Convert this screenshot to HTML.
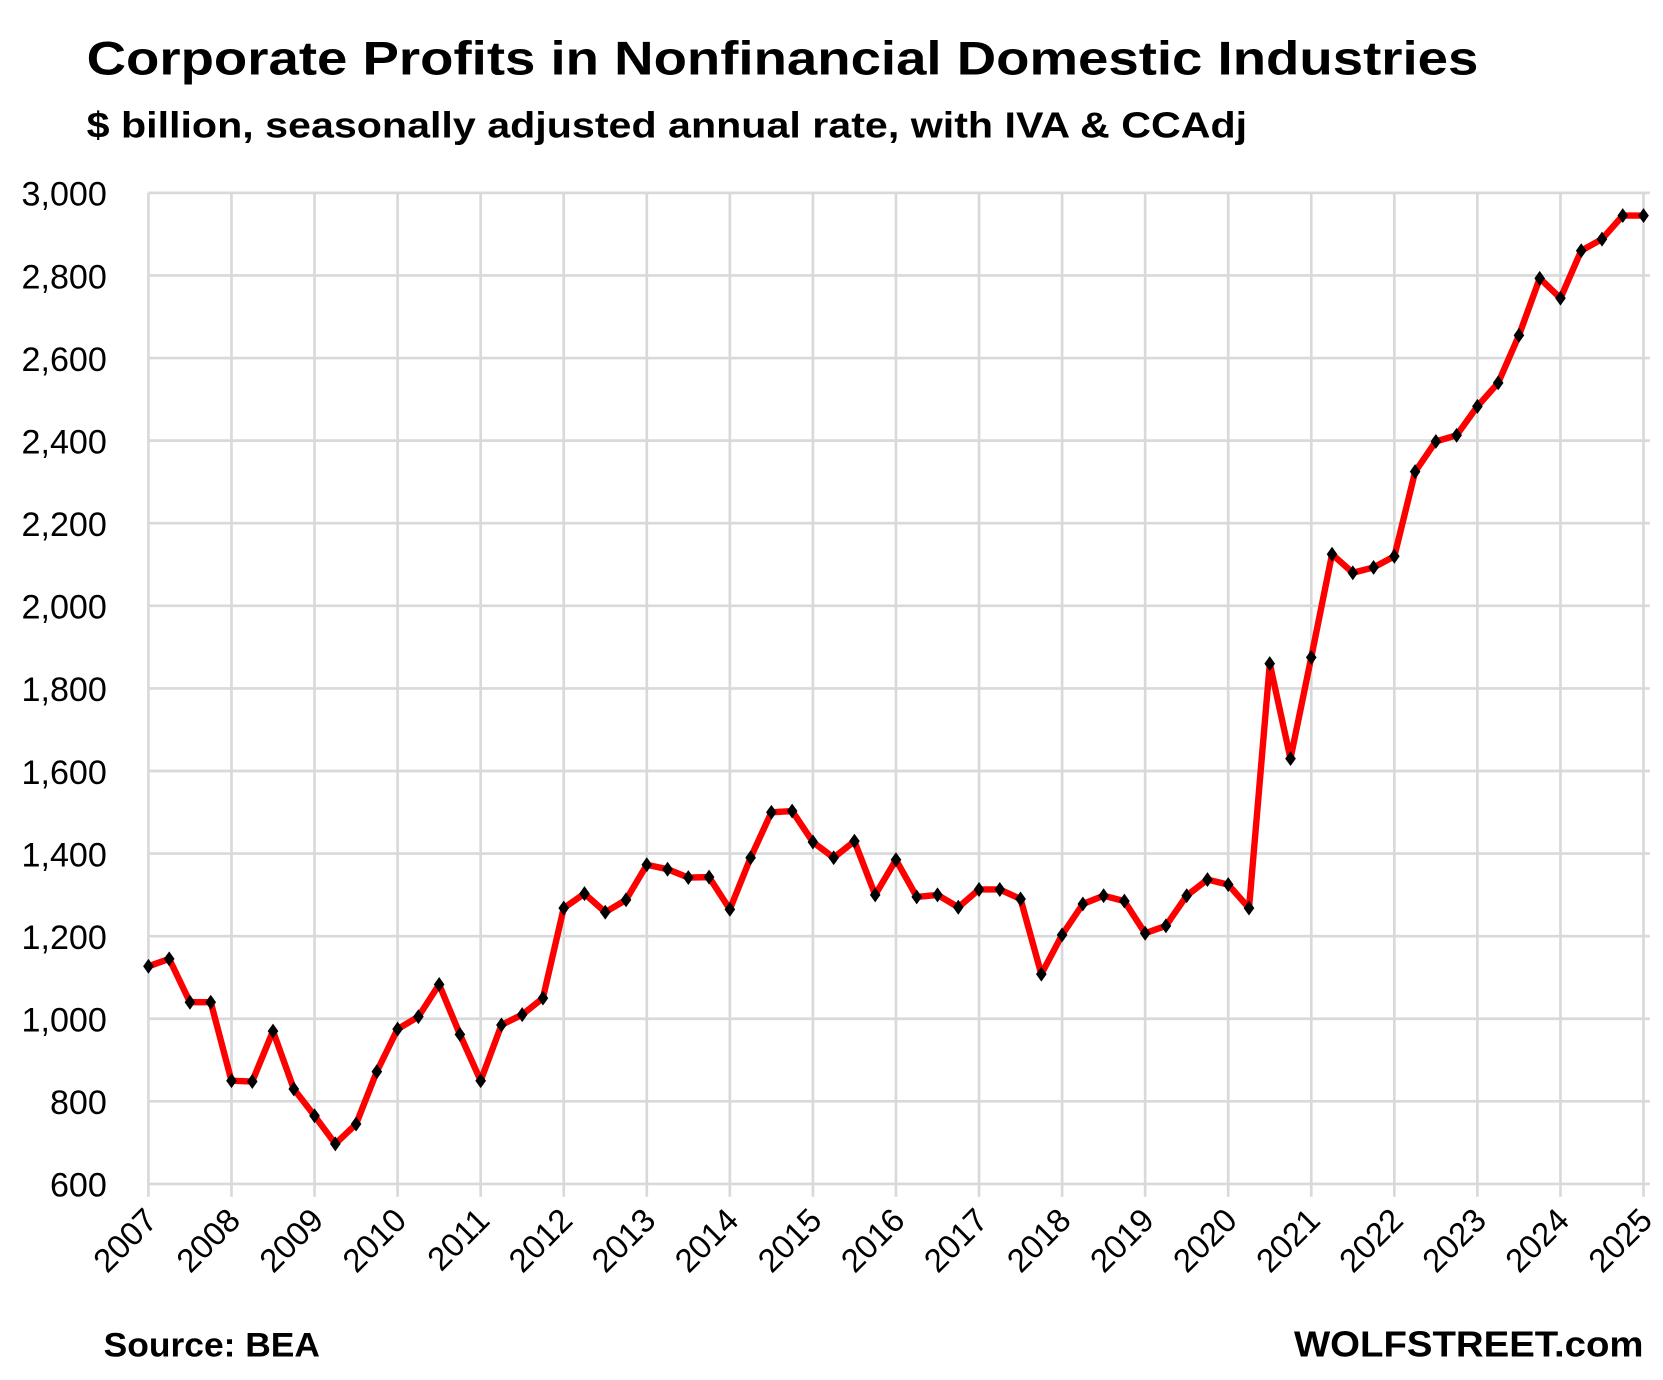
<!DOCTYPE html>
<html><head><meta charset="utf-8"><style>
html,body{margin:0;padding:0;background:#fff;}
svg{display:block;font-family:"Liberation Sans Narrow","Liberation Sans",sans-serif;}
</style></head><body>
<svg id="chart" width="1663" height="1380" viewBox="0 0 1560 1295" xmlns="http://www.w3.org/2000/svg">
<rect width="1560" height="1295" fill="#fff"/>
<text x="81" y="70" font-size="44" font-weight="bold" textLength="1306" lengthAdjust="spacingAndGlyphs">Corporate Profits in Nonfinancial Domestic Industries</text>
<text x="81" y="129" font-size="34" font-weight="bold" textLength="1089" lengthAdjust="spacingAndGlyphs">$ billion, seasonally adjusted annual rate, with IVA &amp; CCAdj</text>
<g id="grid"></g><g id="series"></g><g id="labels"></g>
<text x="97" y="1273" font-size="32" font-weight="bold" textLength="203" lengthAdjust="spacingAndGlyphs">Source: BEA</text>
<text x="1542" y="1273" font-size="34" font-weight="bold" text-anchor="end" textLength="328" lengthAdjust="spacingAndGlyphs">WOLFSTREET.com</text>
</svg>
<script>
const years = ["2007","2008","2009","2010","2011","2012","2013","2014","2015","2016","2017","2018","2019","2020","2021","2022","2023","2024","2025"];
const yTicks = [600,800,1000,1200,1400,1600,1800,2000,2200,2400,2600,2800,3000];
const yTickLabels = ["600","800","1,000","1,200","1,400","1,600","1,800","2,000","2,200","2,400","2,600","2,800","3,000"];
const profits = [1127,1145,1040,1040, 850,848,970,830, 765,697,745,872, 975,1005,1083,962,
 850,985,1010,1050, 1268,1303,1258,1288, 1373,1362,1342,1343, 1265,1390,1500,1503,
 1428,1390,1430,1300, 1385,1295,1300,1270, 1313,1313,1290,1108, 1203,1278,1298,1285,
 1207,1225,1298,1337, 1325,1268,1860,1630, 1875,2125,2080,2093, 2120,2325,2398,2413,
 2483,2540,2655,2793, 2745,2860,2888,2945, 2945];
const NS="http://www.w3.org/2000/svg";
const X0=139,X1=1542,Y0=1111,Y1=181;
function xq(i){return X0+(X1-X0)*i/72;}
function xy(yi){return X0+(X1-X0)*yi/18;}
function yv(v){return Y0-(v-600)/2400*(Y0-Y1);}
function mk(tag,attrs,parent){const e=document.createElementNS(NS,tag);for(const k in attrs)e.setAttribute(k,attrs[k]);parent.appendChild(e);return e;}
const grid=document.getElementById('grid'),series=document.getElementById('series'),labels=document.getElementById('labels');
years.forEach((y,i)=>{
  const l=mk('line',{x1:xy(i),x2:xy(i),y1:Y1,y2:Y0+12,stroke:'#d9d9d9','stroke-width':2.5},grid);
  
  
  const t=mk('text',{x:0,y:0,'font-size':31,'text-anchor':'end',transform:`translate(${xy(i)+10},${Y0+36}) rotate(-45)`},labels);
  t.textContent=y;
  
  
});
yTicks.forEach((v,i)=>{
  const l=mk('line',{x1:X0,x2:X1+6,y1:yv(v),y2:yv(v),stroke:'#d9d9d9','stroke-width':2.5},grid);
  
  
  const t=mk('text',{x:100,y:yv(v)+12,'font-size':32,'text-anchor':'end'},labels);
  t.textContent=yTickLabels[i];
  
  
});
const pts=profits.map((v,i)=>xq(i).toFixed(1)+','+yv(v).toFixed(1)).join(' ');
const pl=mk('polyline',{points:pts,fill:'none',stroke:'#ff0000','stroke-width':6,'stroke-linejoin':'round'},series);


profits.forEach((v,i)=>{
  const x=xq(i),y=yv(v);
  const p=mk('polygon',{points:`${x},${y-7} ${x+5},${y} ${x},${y+7} ${x-5},${y}`,fill:'#000'},series);
  
  
});
</script>
</body></html>
